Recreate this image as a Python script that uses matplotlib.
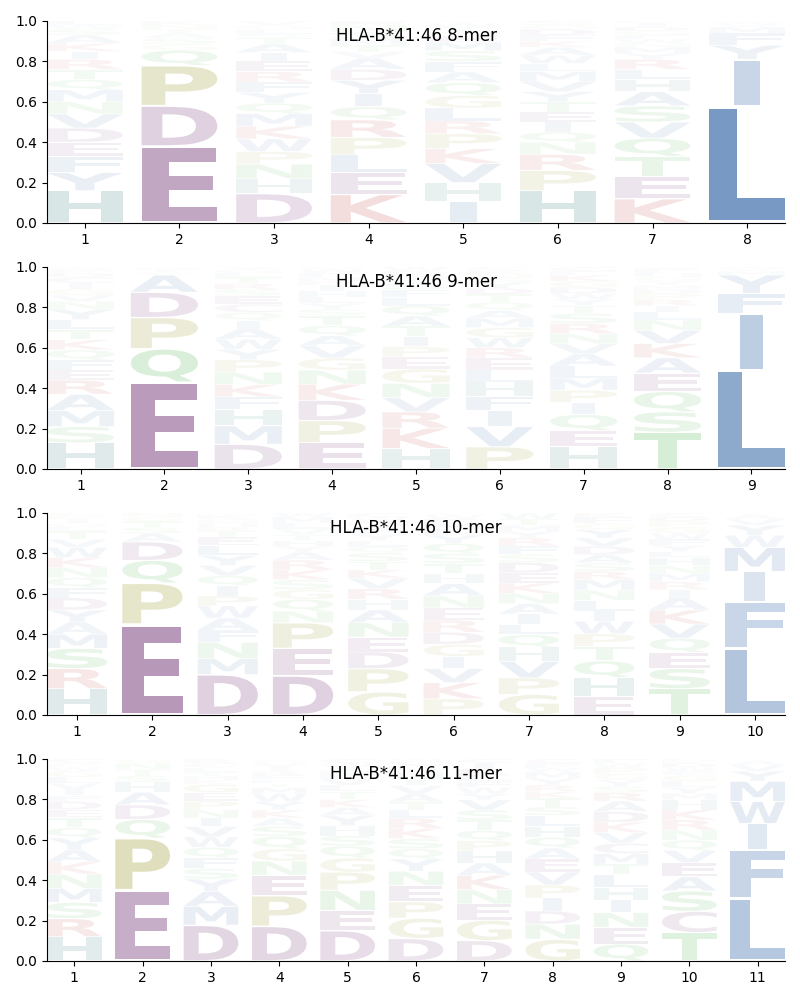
import matplotlib
matplotlib.use('Agg')
import matplotlib.pyplot as plt
from matplotlib.textpath import TextPath
from matplotlib.font_manager import FontProperties
from matplotlib.patches import PathPatch
from matplotlib.transforms import Affine2D

# residue frequencies per position
mer8 = [
    dict(H=.16, Y=.09, F=.08, E=.07, D=.07, Q=.05, T=.05, N=.06, M=.06, I=.04, R=.05, V=.07, K=.04, A=.04, S=.03, W=.02, L=.02),
    dict(E=.38, D=.20, P=.20, Q=.075, G=.03, S=.03, A=.025, T=.02, N=.02, K=.02),
    dict(D=.14, P=.06, H=.07, Q=.05, Y=.05, F=.05, R=.05, W=.06, N=.07, E=.05, I=.04, A=.04, K=.06, M=.06, S=.02, L=.02, T=.03, G=.02, V=.02),
    dict(K=.13, E=.10, L=.08, P=.08, R=.08, Q=.06, I=.06, Y=.06, V=.03, D=.05, A=.05, T=.03, M=.03, S=.03, N=.03, F=.02),
    dict(I=.10, H=.09, V=.09, K=.07, R=.06, P=.07, L=.06, G=.06, A=.05, F=.05, M=.04, Q=.06, S=.05, E=.03, N=.02, T=.02, W=.02, Y=.01),
    dict(H=.16, P=.10, R=.08, Q=.05, I=.05, E=.05, T=.05, N=.06, L=.04, Y=.05, V=.05, W=.04, K=.03, F=.03, M=.05, A=.04, D=.03, G=.02, S=.02),
    dict(K=.12, E=.11, T=.10, Q=.09, V=.08, S=.08, A=.07, L=.05, H=.06, R=.05, N=.02, Y=.03, M=.03, W=.02, F=.02, G=.02, D=.02, I=.02, P=.01),
    dict(L=.58, I=.23, Y=.07, F=.06, M=.03, V=.015, W=.01, A=.005),
]
mer9 = [
    dict(H=.13, S=.08, M=.08, A=.08, R=.07, E=.05, F=.05, Q=.05, K=.05, T=.05, N=.04, L=.05, Y=.05, V=.03, D=.02, W=.01, G=.03, I=.03, P=.02, C=.03),
    dict(E=.43, Q=.165, P=.155, D=.125, A=.085, S=.015, T=.015, G=.01),
    dict(D=.12, M=.09, H=.08, F=.06, K=.06, N=.06, P=.06, Y=.05, I=.04, Q=.04, S=.03, C=.04, W=.05, A=.05, E=.04, R=.03, L=.02, V=.01, T=.03, G=.02),
    dict(E=.13, P=.11, D=.10, K=.08, G=.06, A=.05, Q=.05, T=.05, N=.07, S=.03, V=.06, R=.02, Y=.03, L=.03, M=.02, F=.02, H=.03, I=.03, W=.02, C=.01),
    dict(H=.10, K=.10, R=.08, V=.07, N=.07, G=.07, P=.05, L=.04, F=.04, E=.06, I=.05, T=.05, A=.05, Q=.05, S=.03, Y=.02, M=.02, D=.02, W=.02),
    dict(P=.11, V=.10, I=.08, F=.07, H=.07, L=.06, R=.05, A=.04, Q=.04, W=.05, M=.045, E=.06, T=.04, G=.05, S=.02, N=.02, K=.02, D=.03, Y=.03, C=.015),
    dict(H=.11, E=.08, Q=.08, I=.06, P=.06, M=.06, L=.06, V=.05, N=.05, T=.04, R=.05, A=.06, S=.05, Y=.03, W=.03, F=.02, D=.03, G=.03, C=.02, K=.03),
    dict(T=.18, S=.10, Q=.10, E=.09, A=.075, K=.07, V=.065, L=.04, N=.05, I=.03, R=.03, D=.02, M=.02, Y=.02, G=.02, H=.02, P=.03, F=.02, W=.01),
    dict(L=.49, I=.28, F=.10, Y=.09, M=.02, V=.01, W=.01),
]
mer10 = [
    dict(H=.13, R=.10, S=.10, A=.06, M=.07, Y=.06, V=.04, F=.05, T=.04, Q=.05, N=.05, D=.06, K=.05, W=.05, L=.02, G=.02, I=.02, P=.02, C=.01),
    dict(E=.44, P=.20, Q=.11, D=.09, A=.04, S=.03, T=.03, G=.02, N=.02),
    dict(D=.20, M=.08, F=.06, P=.05, I=.05, A=.06, N=.08, Q=.05, E=.04, V=.05, Y=.05, L=.05, W=.06, R=.02, H=.02, S=.01, T=.03, G=.02, K=.02),
    dict(D=.20, E=.14, P=.13, G=.05, S=.05, N=.06, Q=.06, A=.04, K=.05, R=.05, Y=.03, H=.03, T=.03, V=.03, L=.03, M=.03, W=.02),
    dict(G=.11, P=.11, D=.08, E=.07, N=.07, A=.06, H=.05, R=.05, V=.05, K=.04, T=.04, S=.04, Q=.03, L=.03, Y=.03, F=.02, I=.02, M=.02, W=.02, C=.02),
    dict(P=.08, K=.08, V=.07, I=.06, G=.06, D=.06, R=.06, E=.06, N=.06, H=.05, T=.05, S=.05, Q=.05, A=.06, Y=.04, L=.03, M=.03, F=.02, W=.02, C=.01),
    dict(G=.10, P=.08, H=.07, V=.08, L=.05, I=.05, Q=.06, A=.05, N=.05, S=.04, K=.05, E=.05, F=.04, D=.05, R=.04, Y=.03, M=.03, T=.03, W=.03),
    dict(E=.09, H=.09, Q=.08, T=.07, P=.06, I=.05, L=.05, W=.06, R=.04, S=.04, A=.04, N=.05, M=.05, D=.04, V=.04, Y=.04, G=.03, F=.03, K=.02),
    dict(T=.13, S=.10, E=.08, Q=.07, V=.07, K=.07, A=.06, I=.04, R=.04, M=.04, N=.04, H=.04, L=.03, Y=.03, F=.03, W=.03, G=.03, P=.03, D=.02, C=.02),
    dict(L=.33, F=.23, I=.15, M=.12, W=.06, Y=.05, V=.03, A=.02, T=.01),
]
mer11 = [
    dict(H=.12, R=.09, S=.08, M=.07, N=.07, K=.06, A=.06, Q=.05, T=.05, E=.04, F=.03, Y=.06, D=.04, I=.03, V=.03, W=.02, L=.03, G=.03, P=.02, C=.02),
    dict(E=.34, P=.25, Q=.09, D=.07, A=.06, H=.05, S=.03, T=.03, N=.03, G=.02),
    dict(D=.17, M=.09, S=.05, F=.05, A=.07, I=.04, Q=.05, N=.04, P=.04, W=.05, Y=.06, E=.04, K=.02, V=.05, H=.02, T=.02, L=.02, G=.04, C=.02, R=.02),
    dict(D=.17, P=.15, E=.10, G=.06, Q=.06, S=.05, N=.07, A=.04, K=.04, M=.03, Y=.04, W=.04, T=.02, L=.02, F=.02, H=.01, R=.02, I=.02, C=.01, V=.02),
    dict(D=.15, E=.10, N=.10, P=.09, G=.07, S=.05, Q=.06, H=.05, A=.04, K=.04, Y=.05, T=.04, L=.03, V=.03, F=.02, M=.02, I=.02, W=.02, C=.02),
    dict(D=.11, G=.10, P=.08, E=.08, Q=.05, N=.07, S=.05, L=.04, T=.04, K=.05, R=.05, A=.04, Y=.06, M=.02, F=.02, W=.01, V=.04, I=.03, H=.03, C=.02),
    dict(D=.10, G=.10, E=.08, N=.07, K=.07, P=.05, Q=.05, T=.05, A=.06, S=.05, H=.06, V=.05, Y=.03, W=.03, F=.03, L=.03, R=.03, I=.03, C=.02),
    dict(G=.10, N=.07, D=.06, I=.06, P=.06, V=.06, E=.06, A=.05, Q=.05, S=.04, T=.04, H=.05, K=.03, R=.03, L=.05, Y=.03, M=.03, W=.02, F=.02, C=.02),
    dict(Q=.08, E=.08, N=.07, I=.06, H=.06, T=.05, L=.06, M=.05, C=.05, V=.05, K=.05, D=.05, R=.04, A=.05, S=.03, Y=.03, W=.02, G=.03, P=.03, F=.02),
    dict(T=.14, C=.105, S=.10, A=.07, E=.07, Q=.05, V=.06, N=.05, R=.05, K=.05, H=.05, M=.03, Y=.03, L=.03, F=.02, W=.02, G=.03, D=.02, P=.02),
    dict(L=.31, F=.24, I=.13, W=.11, M=.10, Y=.05, V=.03, A=.02, T=.01),
]

allele = 'HLA-B*41:46'
panels = [(8, mer8), (9, mer9), (10, mer10), (11, mer11)]

colors = {}
for aa in 'AVLIMFWY':
    colors[aa] = '#165098'
for aa in 'DE':
    colors[aa] = '#611962'
for aa in 'PG':
    colors[aa] = '#858500'
for aa in 'STNQ':
    colors[aa] = '#1ea01e'
for aa in 'KR':
    colors[aa] = '#b41414'
colors['H'] = '#146464'
colors['C'] = '#6e286e'

font = FontProperties(family='DejaVu Sans', weight='bold')
glyph_cache = {}


def glyph(ch):
    if ch not in glyph_cache:
        tp = TextPath((0, 0), ch, size=1, prop=font)
        glyph_cache[ch] = (tp, tp.get_extents())
    return glyph_cache[ch]


def draw_letter(ax, ch, x, y, h, width=0.8, vpad=0.05, alpha=1.0):
    tp, bb = glyph(ch)
    w = width * (0.35 if ch == 'I' else 1.0)
    hh = h * (1 - vpad)
    y0 = y + h * vpad / 2
    tr = Affine2D().translate(-bb.x0, -bb.y0).scale(w / bb.width, hh / bb.height) \
        .translate(x - w / 2, y0)
    ax.add_patch(PathPatch(tr.transform_path(tp), facecolor=colors[ch],
                           edgecolor='none', alpha=alpha, zorder=2))


fig = plt.figure(figsize=(8, 10), dpi=100)
bottoms = [0.777, 0.531, 0.285, 0.039]

for (n, data), b in zip(panels, bottoms):
    ax = fig.add_axes([0.05875, b, 0.9225, 0.202])
    for i, col in enumerate(data):
        tot = sum(col.values())
        y = 0.0
        for aa, v in sorted(col.items(), key=lambda kv: -kv[1]):
            f = v / tot
            draw_letter(ax, aa, i + 1, y, f, alpha=min(1.0, f))
            y += f
    ax.set_xlim(0.6, n + 0.4)
    ax.set_ylim(0, 1)
    ax.set_xticks(range(1, n + 1))
    ax.set_yticks([0, 0.2, 0.4, 0.6, 0.8, 1.0])
    ax.spines['top'].set_visible(False)
    ax.spines['right'].set_visible(False)
    ax.text(0.5, 0.925, '%s %d-mer' % (allele, n), transform=ax.transAxes,
            ha='center', va='center', fontsize=12, zorder=5)

fig.savefig('out.png', dpi=100)
